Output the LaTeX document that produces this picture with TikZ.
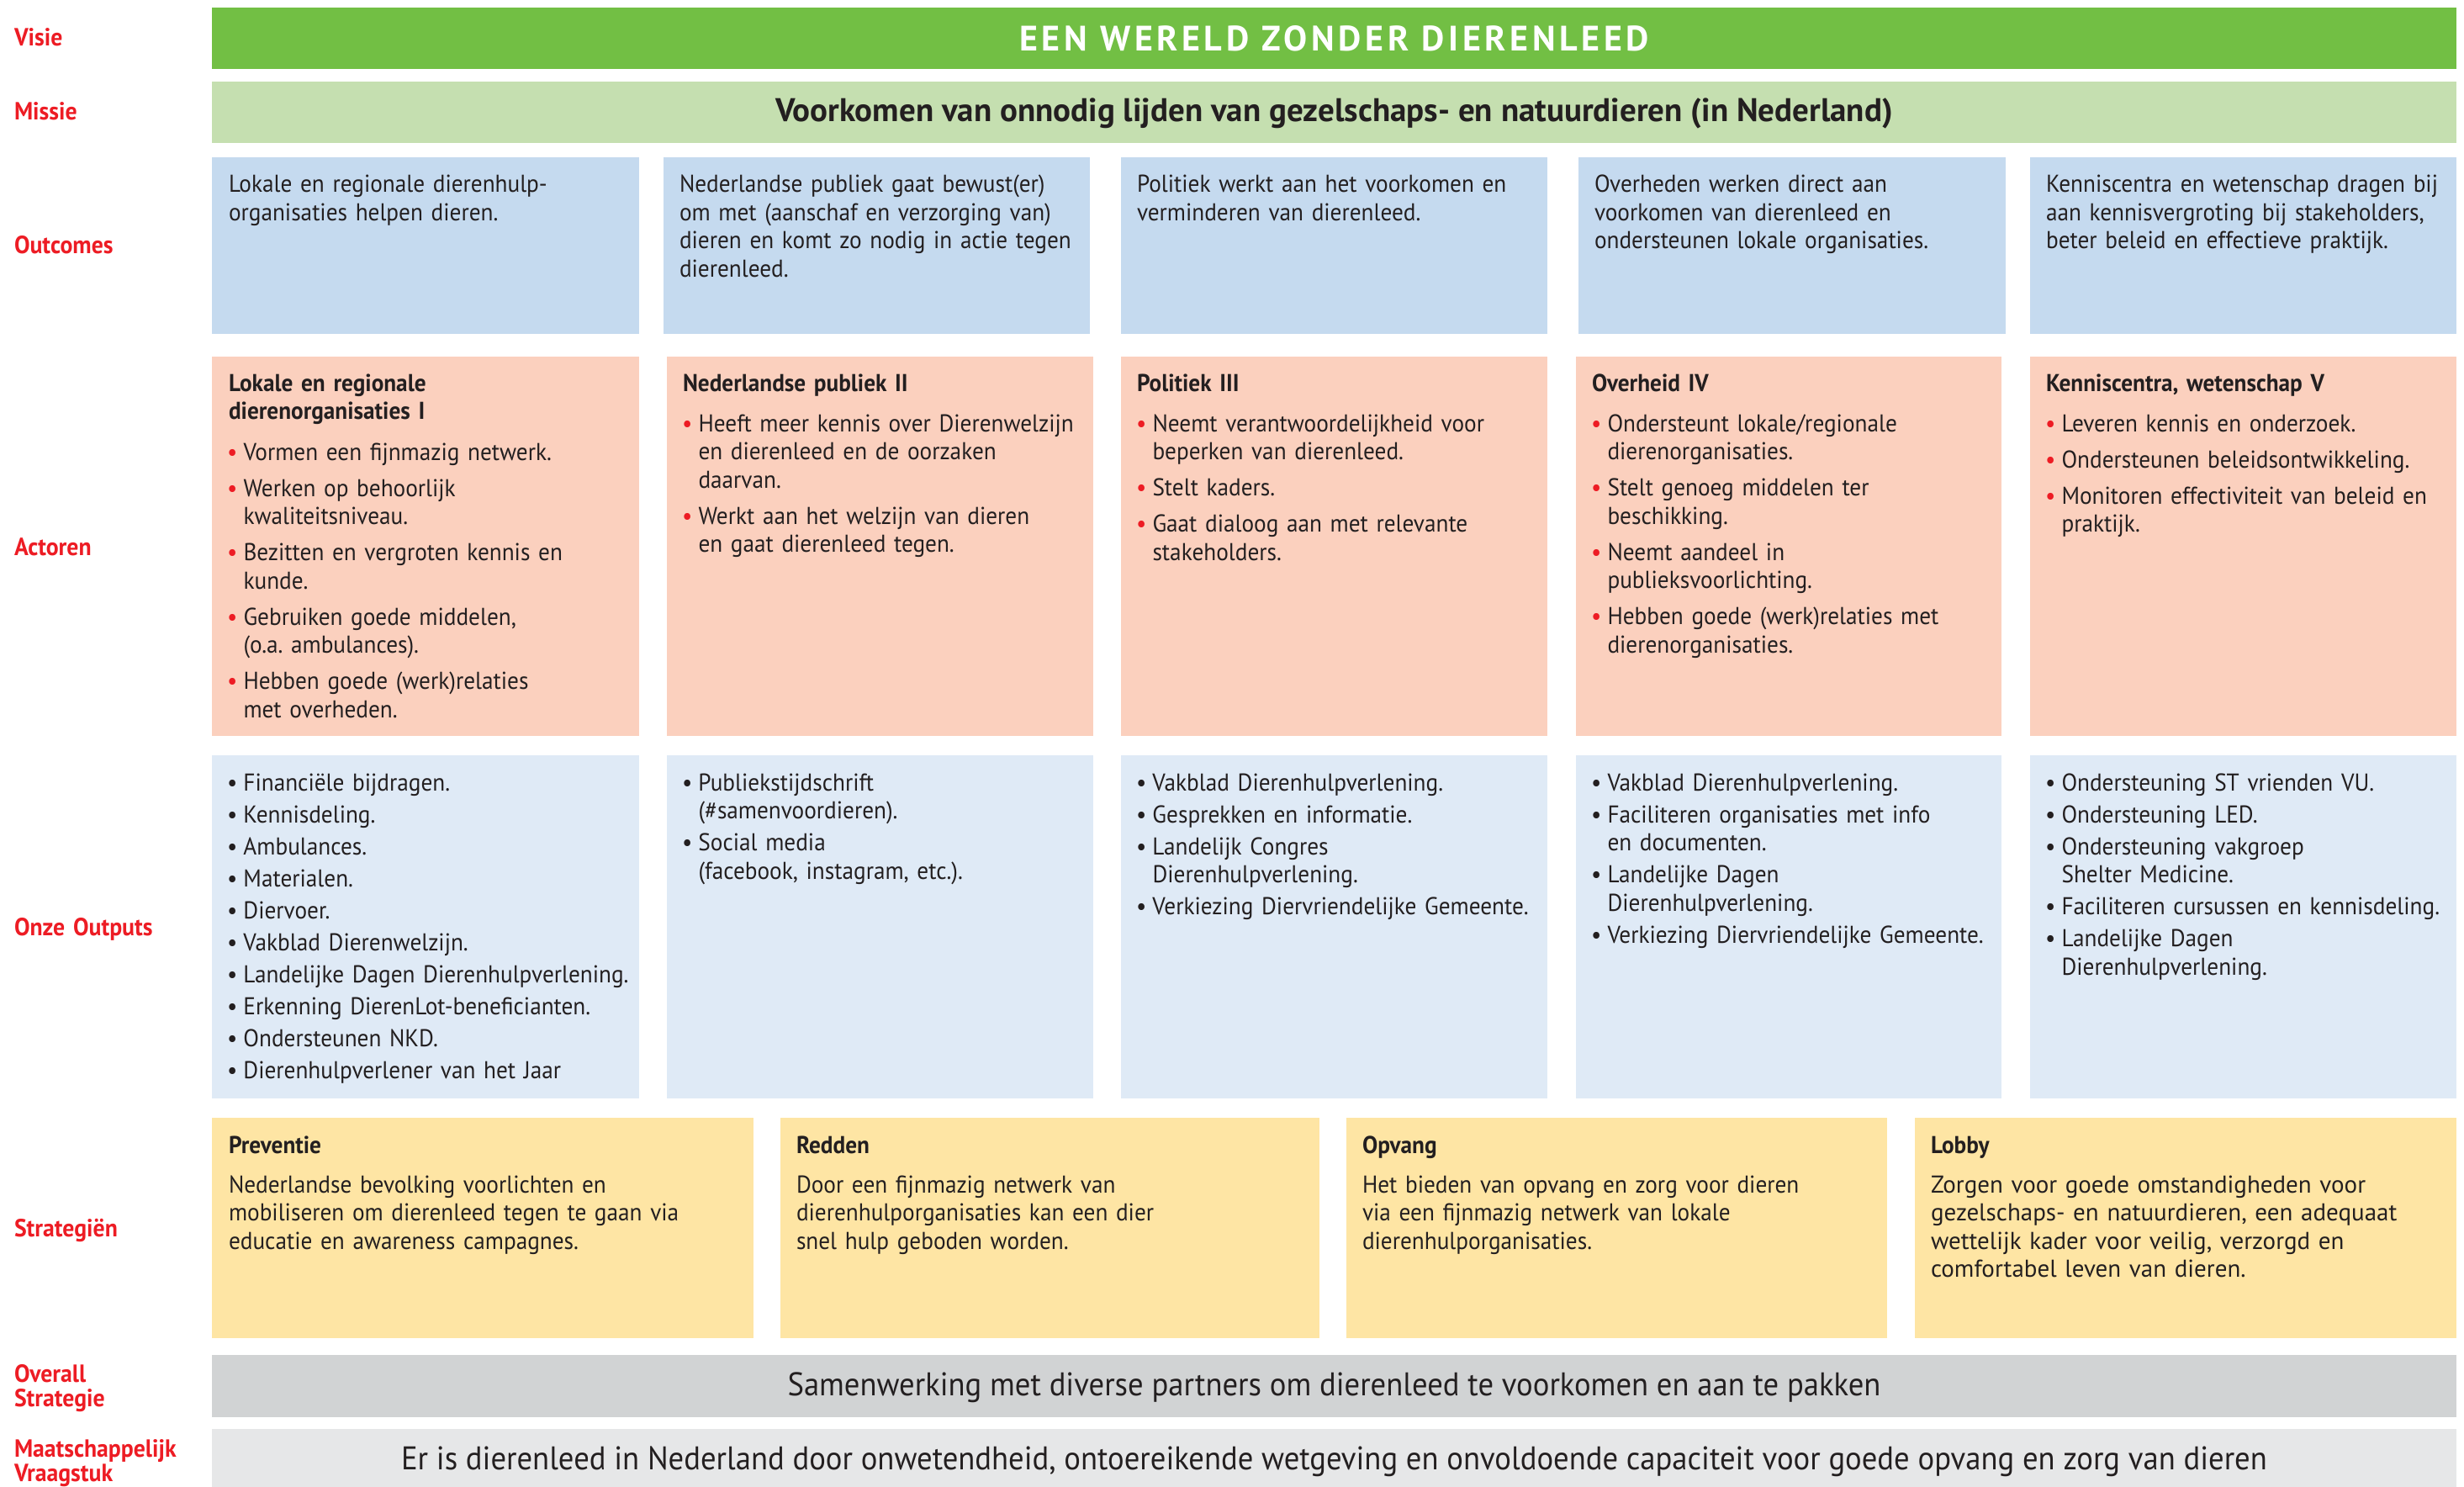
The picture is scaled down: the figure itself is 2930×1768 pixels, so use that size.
\documentclass[tikz,border=0pt]{standalone}
\usepackage{fontspec}
\setmainfont{PT Sans}[FakeStretch=0.94]
\newfontfamily\titlefont{PT Sans}[LetterSpace=11]
\newfontfamily\widefont{PT Sans}
\newfontfamily\bandfont{PT Sans}
\usetikzlibrary{calc}
\definecolor{cGreen}{HTML}{72BF44}
\definecolor{cMiss}{HTML}{C5DFB0}
\definecolor{cOutc}{HTML}{C5DAEF}
\definecolor{cAct}{HTML}{FBD0BE}
\definecolor{cOutp}{HTML}{DFEAF6}
\definecolor{cStr}{HTML}{FEE5A4}
\definecolor{cGray}{HTML}{D1D3D4}
\definecolor{cLgray}{HTML}{E6E7E8}
\definecolor{cRed}{HTML}{ED1C24}
\definecolor{cTxt}{HTML}{231F20}
\newcommand\rb{\leavevmode\llap{\textcolor{cRed}{•}\hspace{7pt}}}
\newcommand\db{\leavevmode\llap{•\hspace{7pt}}}
\frenchspacing
\tikzset{
  box/.style={anchor=north west, inner sep=0pt, outer sep=0pt, draw=none},
  txt/.style={anchor=base west, inner sep=0pt, outer sep=0pt, align=left, text width=#1, font=\frenchspacing\fontsize{29}{33.5}\selectfont, text=cTxt},
  txt/.default=620pt,
  ttl/.style={txt, font=\frenchspacing\bfseries\fontsize{29}{33.5}\selectfont},
  wtxt/.style={txt, font=\frenchspacing\widefont\fontsize{29}{33.5}\selectfont},
  lab/.style={anchor=base west, inner sep=0pt, outer sep=0pt, align=left, text width=240pt, font=\bfseries\fontsize{29.5}{29.5}\selectfont, text=cRed},
  band/.style={anchor=base, inner sep=0pt, outer sep=0pt, text=cTxt}
}
\begin{document}
\begin{tikzpicture}[x=1pt,y=-1pt]
\useasboundingbox (0,0) rectangle (2930,1768);
\fill[white] (0,0) rectangle (2930,1768);

% ---------- row labels ----------
\node[lab] (lVisie) at (17,55) {Visie};
\node[lab] (lMissie) at (17,143) {Missie};
\node[lab] (lOutc) at (17,302) {Outcomes};
\node[lab] (lAct) at (17,660) {Actoren};
\node[lab] (lOutp) at (17,1112) {Onze Outputs};
\node[lab] (lStr) at (17,1470) {Strategiën};
\node[lab] (lOver) at (17,1643) {Overall\\Strategie};
\node[lab] (lMaat) at (17,1732) {Maatschappelijk\\Vraagstuk};

% ---------- visie / missie ----------
\node[box, fill=cGreen, minimum width=2669pt, minimum height=73pt] (visie) at (252,9) {};
\node[band, text=white, font=\titlefont\bfseries\fontsize{42}{45}\selectfont] (visieT) at ($(visie.center)+(0,15.5)$) {EEN WERELD ZONDER DIERENLEED};
\node[box, fill=cMiss, minimum width=2669pt, minimum height=73pt] (missie) at (252,97) {};
\node[band, font=\bandfont\bfseries\fontsize{39}{42}\selectfont] (missieT) at ($(missie.center)+(0,11)$) {Voorkomen van onnodig lijden van gezelschaps- en natuurdieren (in Nederland)};

% ---------- outcomes ----------
\node[box, fill=cOutc, minimum width=508pt, minimum height=210pt] (o1) at (252,187) {};
\node[box, fill=cOutc, minimum width=507pt, minimum height=210pt] (o2) at (789,187) {};
\node[box, fill=cOutc, minimum width=507pt, minimum height=210pt] (o3) at (1333,187) {};
\node[box, fill=cOutc, minimum width=508pt, minimum height=210pt] (o4) at (1877,187) {};
\node[box, fill=cOutc, minimum width=507pt, minimum height=210pt] (o5) at (2414,187) {};
\node[txt] (o1t) at ($(o1.north west)+(20,42)$) {Lokale en regionale dierenhulp-\\organisaties helpen dieren.};
\node[txt] (o2t) at ($(o2.north west)+(19,42)$) {Nederlandse publiek gaat bewust(er)\\om met (aanschaf en verzorging van)\\dieren en komt zo nodig in actie tegen\\dierenleed.};
\node[txt] (o3t) at ($(o3.north west)+(19,42)$) {Politiek werkt aan het voorkomen en\\verminderen van dierenleed.};
\node[txt] (o4t) at ($(o4.north west)+(19,42)$) {Overheden werken direct aan\\voorkomen van dierenleed en\\ondersteunen lokale organisaties.};
\node[txt] (o5t) at ($(o5.north west)+(19,42)$) {Kenniscentra en wetenschap dragen bij\\aan kennisvergroting bij stakeholders,\\beter beleid en effectieve praktijk.};

% ---------- actoren ----------
\node[box, fill=cAct, minimum width=508pt, minimum height=451pt] (a1) at (252,424) {};
\node[box, fill=cAct, minimum width=507pt, minimum height=451pt] (a2) at (793,424) {};
\node[box, fill=cAct, minimum width=507pt, minimum height=451pt] (a3) at (1333,424) {};
\node[box, fill=cAct, minimum width=506pt, minimum height=451pt] (a4) at (1874,424) {};
\node[box, fill=cAct, minimum width=507pt, minimum height=451pt] (a5) at (2414,424) {};
\node[ttl] (a1h) at ($(a1.north west)+(20,41)$) {Lokale en regionale\\dierenorganisaties I};
\node[ttl] (a2h) at ($(a2.north west)+(19,41)$) {Nederlandse publiek II};
\node[ttl] (a3h) at ($(a3.north west)+(19,41)$) {Politiek III};
\node[ttl] (a4h) at ($(a4.north west)+(19,41)$) {Overheid IV};
\node[ttl] (a5h) at ($(a5.north west)+(19,41)$) {Kenniscentra, wetenschap V};
\node[txt] (a1t) at ($(a1.north west)+(37.5,123)$) {\rb Vormen een fijnmazig netwerk.\\[9.5pt]\rb Werken op behoorlijk\\kwaliteitsniveau.\\[9.5pt]\rb Bezitten en vergroten kennis en\\kunde.\\[9.5pt]\rb Gebruiken goede middelen,\\(o.a. ambulances).\\[9.5pt]\rb Hebben goede (werk)relaties\\met overheden.};
\node[txt] (a2t) at ($(a2.north west)+(37.5,89)$) {\rb Heeft meer kennis over Dierenwelzijn\\en dierenleed en de oorzaken\\daarvan.\\[9.5pt]\rb Werkt aan het welzijn van dieren\\en gaat dierenleed tegen.};
\node[txt] (a3t) at ($(a3.north west)+(37.5,89)$) {\rb Neemt verantwoordelijkheid voor\\beperken van dierenleed.\\[9.5pt]\rb Stelt kaders.\\[9.5pt]\rb Gaat dialoog aan met relevante\\stakeholders.};
\node[txt] (a4t) at ($(a4.north west)+(37.5,89)$) {\rb Ondersteunt lokale/regionale\\dierenorganisaties.\\[9.5pt]\rb Stelt genoeg middelen ter\\beschikking.\\[9.5pt]\rb Neemt aandeel in\\publieksvoorlichting.\\[9.5pt]\rb Hebben goede (werk)relaties met\\dierenorganisaties.};
\node[txt] (a5t) at ($(a5.north west)+(37.5,89)$) {\rb Leveren kennis en onderzoek.\\[9.5pt]\rb Ondersteunen beleidsontwikkeling.\\[9.5pt]\rb Monitoren effectiviteit van beleid en\\praktijk.};

% ---------- outputs ----------
\node[box, fill=cOutp, minimum width=508pt, minimum height=408pt] (p1) at (252,898) {};
\node[box, fill=cOutp, minimum width=507pt, minimum height=408pt] (p2) at (793,898) {};
\node[box, fill=cOutp, minimum width=507pt, minimum height=408pt] (p3) at (1333,898) {};
\node[box, fill=cOutp, minimum width=506pt, minimum height=408pt] (p4) at (1874,898) {};
\node[box, fill=cOutp, minimum width=507pt, minimum height=408pt] (p5) at (2414,898) {};
\node[txt] (p1t) at ($(p1.north west)+(37.5,42)$) {\db Financiële bijdragen.\\[4.5pt]\db Kennisdeling.\\[4.5pt]\db Ambulances.\\[4.5pt]\db Materialen.\\[4.5pt]\db Diervoer.\\[4.5pt]\db Vakblad Dierenwelzijn.\\[4.5pt]\db Landelijke Dagen Dierenhulpverlening.\\[4.5pt]\db Erkenning DierenLot-beneficianten.\\[4.5pt]\db Ondersteunen NKD.\\[4.5pt]\db Dierenhulpverlener van het Jaar};
\node[txt] (p2t) at ($(p2.north west)+(37.5,42)$) {\db Publiekstijdschrift\\(\#samenvoordieren).\\[4.5pt]\db Social media\\(facebook, instagram, etc.).};
\node[txt] (p3t) at ($(p3.north west)+(37.5,42)$) {\db Vakblad Dierenhulpverlening.\\[4.5pt]\db Gesprekken en informatie.\\[4.5pt]\db Landelijk Congres\\Dierenhulpverlening.\\[4.5pt]\db Verkiezing Diervriendelijke Gemeente.};
\node[txt] (p4t) at ($(p4.north west)+(37.5,42)$) {\db Vakblad Dierenhulpverlening.\\[4.5pt]\db Faciliteren organisaties met info\\en documenten.\\[4.5pt]\db Landelijke Dagen\\Dierenhulpverlening.\\[4.5pt]\db Verkiezing Diervriendelijke Gemeente.};
\node[txt] (p5t) at ($(p5.north west)+(37.5,42)$) {\db Ondersteuning ST vrienden VU.\\[4.5pt]\db Ondersteuning LED.\\[4.5pt]\db Ondersteuning vakgroep\\Shelter Medicine.\\[4.5pt]\db Faciliteren cursussen en kennisdeling.\\[4.5pt]\db Landelijke Dagen\\Dierenhulpverlening.};

% ---------- strategieen ----------
\node[box, fill=cStr, minimum width=644pt, minimum height=262pt] (s1) at (252,1329) {};
\node[box, fill=cStr, minimum width=641pt, minimum height=262pt] (s2) at (928,1329) {};
\node[box, fill=cStr, minimum width=643pt, minimum height=262pt] (s3) at (1601,1329) {};
\node[box, fill=cStr, minimum width=644pt, minimum height=262pt] (s4) at (2277,1329) {};
\node[ttl] (s1h) at ($(s1.north west)+(20,42)$) {Preventie};
\node[ttl] (s2h) at ($(s2.north west)+(19,42)$) {Redden};
\node[ttl] (s3h) at ($(s3.north west)+(19,42)$) {Opvang};
\node[ttl] (s4h) at ($(s4.north west)+(19,42)$) {Lobby};
\node[txt] (s1t) at ($(s1.north west)+(20,89)$) {Nederlandse bevolking voorlichten en\\mobiliseren om dierenleed tegen te gaan via\\educatie en awareness campagnes.};
\node[txt] (s2t) at ($(s2.north west)+(19,89)$) {Door een fijnmazig netwerk van\\dierenhulporganisaties kan een dier\\snel hulp geboden worden.};
\node[txt] (s3t) at ($(s3.north west)+(19,89)$) {Het bieden van opvang en zorg voor dieren\\via een fijnmazig netwerk van lokale\\dierenhulporganisaties.};
\node[wtxt] (s4t) at ($(s4.north west)+(19,89)$) {Zorgen voor goede omstandigheden voor\\gezelschaps- en natuurdieren, een adequaat\\wettelijk kader voor veilig, verzorgd en\\comfortabel leven van dieren.};

% ---------- overall / maatschappelijk ----------
\node[box, fill=cGray, minimum width=2669pt, minimum height=74pt] (over) at (252,1611) {};
\node[band, font=\fontsize{39}{41}\selectfont] (overT) at ($(over.center)+(0,11)$) {Samenwerking met diverse partners om dierenleed te voorkomen en aan te pakken};
\node[box, fill=cLgray, minimum width=2669pt, minimum height=69pt] (maat) at (252,1699) {};
\node[band, font=\fontsize{39}{42}\selectfont] (maatT) at ($(maat.center)+(0,14)$) {Er is dierenleed in Nederland door onwetendheid, ontoereikende wetgeving en onvoldoende capaciteit voor goede opvang en zorg van dieren};
\end{tikzpicture}
\end{document}
